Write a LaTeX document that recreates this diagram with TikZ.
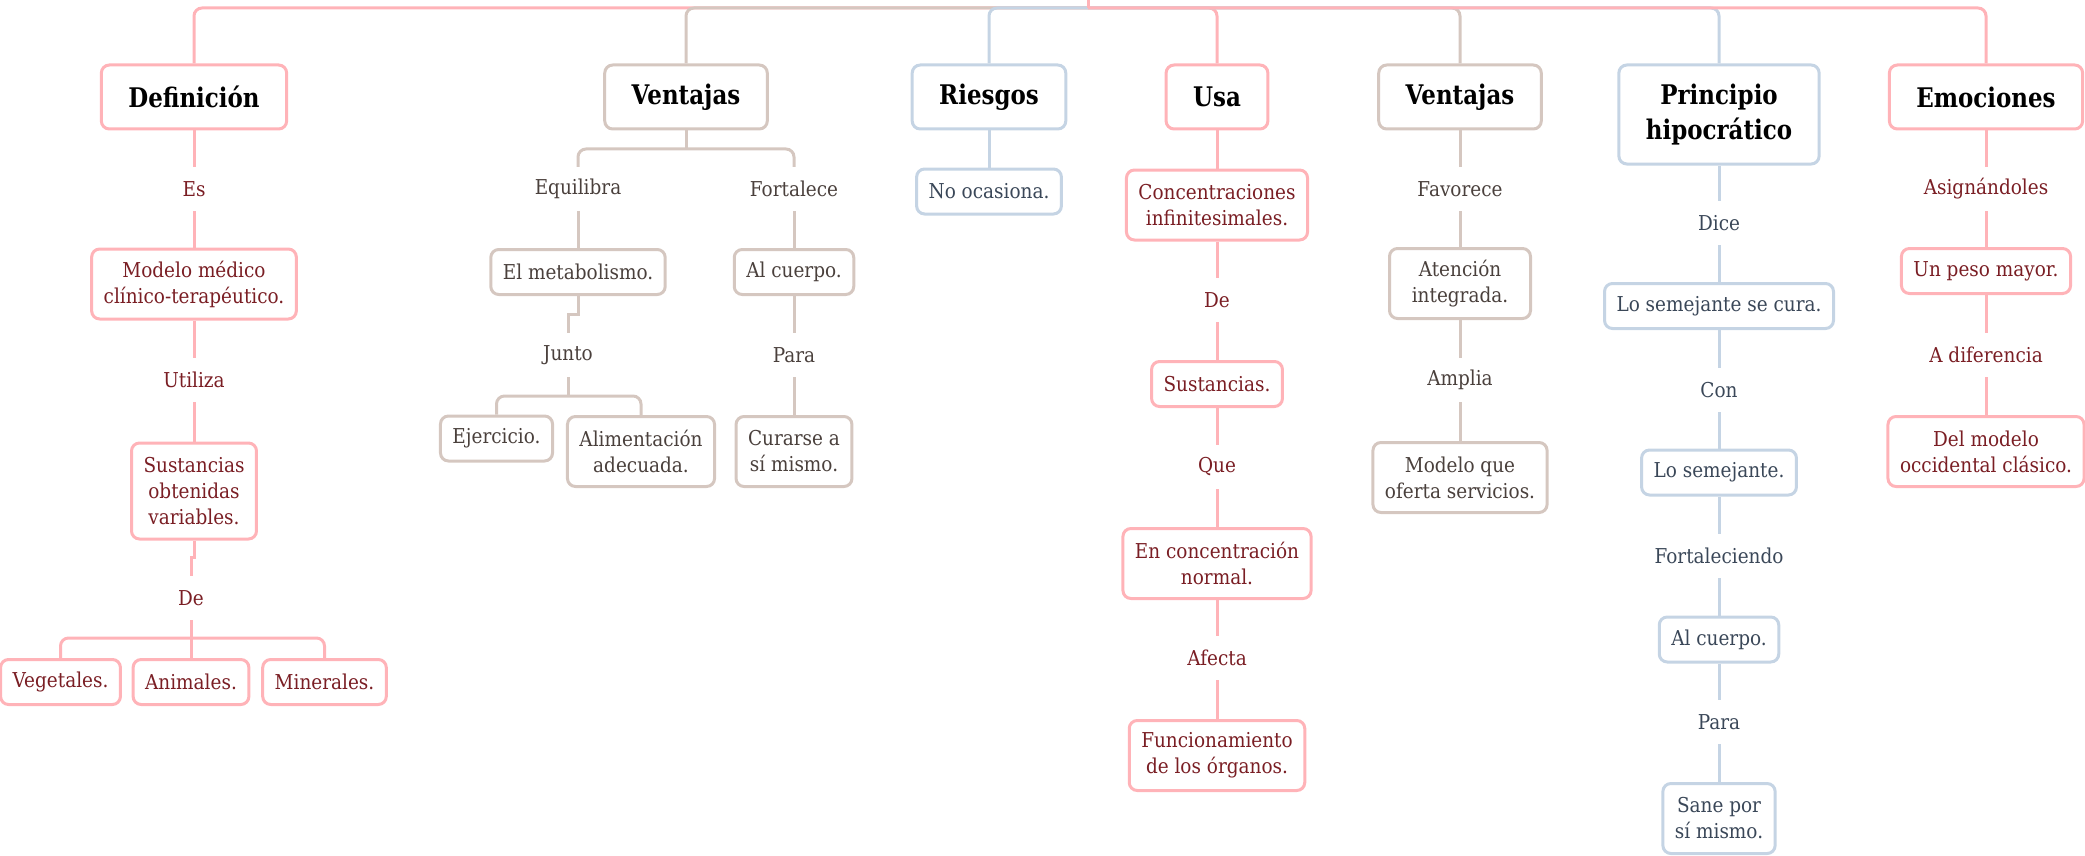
\documentclass[tikz,border=0pt]{standalone}
\usepackage{fontspec}
\setmainfont{DejaVu Serif}[FakeStretch=0.9]
\newfontfamily\mytitlefont{DejaVu Serif}[FakeStretch=0.85]
\definecolor{pkL}{HTML}{FFB3B8}
\definecolor{pkT}{HTML}{7A1E24}
\definecolor{brL}{HTML}{D5C7C0}
\definecolor{brT}{HTML}{4A403C}
\definecolor{blL}{HTML}{C5D4E4}
\definecolor{blT}{HTML}{3A4758}
\newcommand{\mynsz}{\fontsize{20.5pt}{26pt}\selectfont}
\newcommand{\mytsz}{\mytitlefont\fontsize{27pt}{35pt}\selectfont\bfseries}
\tikzset{
  box/.style={draw, rounded corners=8pt, line width=3pt, fill=white, inner xsep=12pt, inner ysep=6pt, align=center, font=\mynsz},
  one/.style={box, minimum height=45pt},
  two/.style={box, minimum height=70pt},
  three/.style={box, minimum height=96pt},
  title/.style={box, font=\mytsz, text=black, inner xsep=27pt, minimum height=64pt, anchor=north},
  lbl/.style={inner sep=0pt, minimum height=44pt, align=center, font=\mynsz},
  pk/.style={draw=pkL, text=pkT},
  br/.style={draw=brL, text=brT},
  bl/.style={draw=blL, text=blT},
  lpk/.style={lbl, text=pkT},
  lbr/.style={lbl, text=brT},
  lbl2/.style={lbl, text=blT},
  conn/.style={line width=3pt, rounded corners=8pt},
}
\begin{document}
\begin{tikzpicture}[x=1pt,y=-1pt]
\useasboundingbox (0,0) rectangle (2085,856);
% root
\coordinate (root) at (1088,0);
\coordinate (rootb) at (1088,8);
% titles
\node[title, draw=pkL] (def) at (194,63.5) {Definición};
\node[title, draw=brL] (v1) at (686,63.5) {Ventajas};
\node[title, draw=blL] (ries) at (989,63.5) {Riesgos};
\node[title, draw=pkL] (usa) at (1217,63.5) {Usa};
\node[title, draw=brL] (v2) at (1460,63.5) {Ventajas};
\node[title, draw=blL, minimum height=99pt] (princ) at (1719,63.5) {Principio\\hipocrático};
\node[title, draw=pkL] (emoc) at (1986,63.5) {Emociones};
% top connectors
\draw[conn, pkL] (rootb) -| (def.north);
\draw[conn, brL] (rootb) -| (v1.north);
\draw[conn, blL] (rootb) -| (ries.north);
\draw[conn, pkL] (rootb) -| (usa.north);
\draw[conn, brL] (rootb) -| (v2.north);
\draw[conn, blL] (rootb) -| (princ.north);
\draw[conn, pkL] (rootb) -| (emoc.north);
\draw[conn, pkL] (root) -- (rootb);
% branch 1
\node[lpk] (es) at (194,189) {Es};
\node[two, pk] (modelo) at (194,284) {Modelo médico\\clínico-terapéutico.};
\node[lpk] (utiliza) at (194,380) {Utiliza};
\node[three, pk] (sust) at (194,491) {Sustancias\\obtenidas\\variables.};
\node[lpk] (de) at (191,598) {De};
\coordinate (debar) at (191,638);
\node[one, pk] (veg) at (60.5,682) {Vegetales.};
\node[one, pk] (ani) at (191,682) {Animales.};
\node[one, pk] (min) at (324.5,682) {Minerales.};
\draw[conn, pkL] (def) -- (es);
\draw[conn, pkL] (es) -- (modelo);
\draw[conn, pkL] (modelo) -- (utiliza);
\draw[conn, pkL] (utiliza) -- (sust);
\draw[line width=3pt, pkL] (sust.south) -- ++(0,17) -| (de.north);
\draw[conn, pkL] (veg.north) |- (debar) -| (min.north);
\draw[conn, pkL] (de.south) -- (ani.north);
% branch 2
\coordinate (v1bar) at (686,149);
\node[lbr] (equil) at (578,189) {Equilibra};
\node[lbr] (fort) at (794,189) {Fortalece};
\node[one, br] (metab) at (578,272) {El metabolismo.};
\node[lbr] (junto) at (568,355) {Junto};
\coordinate (jbar) at (568,396);
\node[one, br] (ejer) at (496.5,438.5) {Ejercicio.};
\node[two, br] (alim) at (641,451.5) {Alimentación\\adecuada.};
\node[one, br] (alcu) at (794,272) {Al cuerpo.};
\node[lbr] (para) at (794,355) {Para};
\node[two, br] (cura) at (794,451.5) {Curarse a\\sí mismo.};
\draw[conn, brL] (v1.south) -- (v1bar);
\draw[conn, brL] (equil.north) |- (v1bar) -| (fort.north);
\draw[conn, brL] (equil) -- (metab);
\draw[line width=3pt, brL] (metab.south) -- ++(0,18) -| (junto.north);
\draw[conn, brL] (junto.south) -- (jbar);
\draw[conn, brL] (ejer.north) |- (jbar) -| (alim.north);
\draw[conn, brL] (fort) -- (alcu);
\draw[conn, brL] (alcu) -- (para);
\draw[conn, brL] (para) -- (cura);
% branch 3
\node[one, bl] (noocas) at (989,191.5) {No ocasiona.};
\draw[conn, blL] (ries) -- (noocas);
% branch 4
\node[two, pk] (conc) at (1217,205) {Concentraciones\\infinitesimales.};
\node[lpk] (de2) at (1217,300) {De};
\node[one, pk] (sust2) at (1217,384) {Sustancias.};
\node[lpk] (que) at (1217,467) {Que};
\node[two, pk] (enconc) at (1217,563.5) {En concentración\\normal.};
\node[lpk] (afecta) at (1217,658) {Afecta};
\node[two, pk] (func) at (1217,755.5) {Funcionamiento\\de los órganos.};
\draw[conn, pkL] (usa) -- (conc);
\draw[conn, pkL] (conc) -- (de2);
\draw[conn, pkL] (de2) -- (sust2);
\draw[conn, pkL] (sust2) -- (que);
\draw[conn, pkL] (que) -- (enconc);
\draw[conn, pkL] (enconc) -- (afecta);
\draw[conn, pkL] (afecta) -- (func);
% branch 5
\node[lbr] (favor) at (1460,189) {Favorece};
\node[two, br, minimum width=141pt] (atenc) at (1460,283.5) {Atención\\integrada.};
\node[lbr] (amplia) at (1460,380) {Amplia};
\node[two, br] (modelo2) at (1460,477.5) {Modelo que\\oferta servicios.};
\draw[conn, brL] (v2) -- (favor);
\draw[conn, brL] (favor) -- (atenc);
\draw[conn, brL] (atenc) -- (amplia);
\draw[conn, brL] (amplia) -- (modelo2);
% branch 6
\node[lbl2] (dice) at (1719,223) {Dice};
\node[one, bl] (locura) at (1719,306) {Lo semejante se cura.};
\node[lbl2] (con) at (1719,390) {Con};
\node[one, bl] (losem) at (1719,472.5) {Lo semejante.};
\node[lbl2] (fortal) at (1719,556) {Fortaleciendo};
\node[one, bl] (alcu2) at (1719,639.5) {Al cuerpo.};
\node[lbl2] (para2) at (1719,722) {Para};
\node[two, bl] (sane) at (1719,818.5) {Sane por\\sí mismo.};
\draw[conn, blL] (princ) -- (dice);
\draw[conn, blL] (dice) -- (locura);
\draw[conn, blL] (locura) -- (con);
\draw[conn, blL] (con) -- (losem);
\draw[conn, blL] (losem) -- (fortal);
\draw[conn, blL] (fortal) -- (alcu2);
\draw[conn, blL] (alcu2) -- (para2);
\draw[conn, blL] (para2) -- (sane);
% branch 7
\node[lpk] (asign) at (1986,189) {Asignándoles};
\node[one, pk] (unpeso) at (1986,271) {Un peso mayor.};
\node[lpk] (adif) at (1986,355) {A diferencia};
\node[two, pk] (delmod) at (1986,451.5) {Del modelo\\occidental clásico.};
\draw[conn, pkL] (emoc) -- (asign);
\draw[conn, pkL] (asign) -- (unpeso);
\draw[conn, pkL] (unpeso) -- (adif);
\draw[conn, pkL] (adif) -- (delmod);
\end{tikzpicture}
\end{document}
